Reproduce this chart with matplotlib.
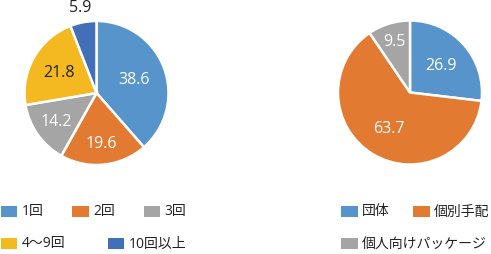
import numpy as np
import matplotlib
matplotlib.use("Agg")
import matplotlib.pyplot as plt
from matplotlib.patches import Rectangle

plt.rcParams["font.family"] = ["Open Sans", "Noto Sans CJK JP", "DejaVu Sans"]

# 左: 訪問回数, 右: 旅行形態 (%)
left_labels = ["1回", "2回", "3回", "4〜9回", "10回以上"]
left_values = [38.6, 19.6, 14.2, 21.8, 5.9]
left_colors = ["#5694CB", "#E27A32", "#A5A5A5", "#F4B920", "#4270B8"]

right_labels = ["団体", "個別手配", "個人向けパッケージ"]
right_values = [26.9, 63.7, 9.5]
right_colors = ["#5694CB", "#E27A32", "#A5A5A5"]

W, H = 491, 255
fig = plt.figure(figsize=(W / 100, H / 100), dpi=100)


def px_axes(cx, cy, r):
    return fig.add_axes([(cx - r) / W, 1 - (cy + r) / H, 2 * r / W, 2 * r / H])


def draw_pie(ax, values, colors, dists, txtcolors):
    wedges, _ = ax.pie(values, colors=colors, startangle=90, counterclock=False,
                       wedgeprops=dict(edgecolor="white", linewidth=1.8))
    ax.set_xlim(-1, 1)
    ax.set_ylim(-1, 1)
    for w, v, d, c in zip(wedges, values, dists, txtcolors):
        th = np.deg2rad((w.theta1 + w.theta2) / 2)
        ax.text(d * np.cos(th), d * np.sin(th), f"{v:.1f}", ha="center",
                va="center", fontsize=11.5, color=c)


ax1 = px_axes(96.5, 94, 72)
draw_pie(ax1, left_values, left_colors, [0.56, 0.70, 0.68, 0.60, 1.22],
         ["white", "white", "white", "#222222", "#222222"])

ax2 = px_axes(410, 93.5, 72)
draw_pie(ax2, right_values, right_colors, [0.57, 0.57, 0.75],
         ["white", "white", "white"])


# 凡例 (Excel 風に手で配置)
def legend_item(x, y, label, color):
    fig.patches.append(Rectangle((x / W, 1 - (y + 5.5) / H), 16.5 / W, 11 / H,
                                 transform=fig.transFigure, facecolor=color,
                                 edgecolor="none"))
    fig.text((x + 21) / W, 1 - y / H, label, ha="left", va="center",
             fontsize=10, color="#222222")


left_pos = [(0.5, 212), (72, 212), (143.5, 212), (0.5, 244), (108, 244)]
for (x, y), lab, col in zip(left_pos, left_labels, left_colors):
    legend_item(x, y, lab, col)

right_pos = [(341, 212), (413, 212), (341, 244)]
for (x, y), lab, col in zip(right_pos, right_labels, right_colors):
    legend_item(x, y, lab, col)

fig.savefig("out.png", dpi=100)
